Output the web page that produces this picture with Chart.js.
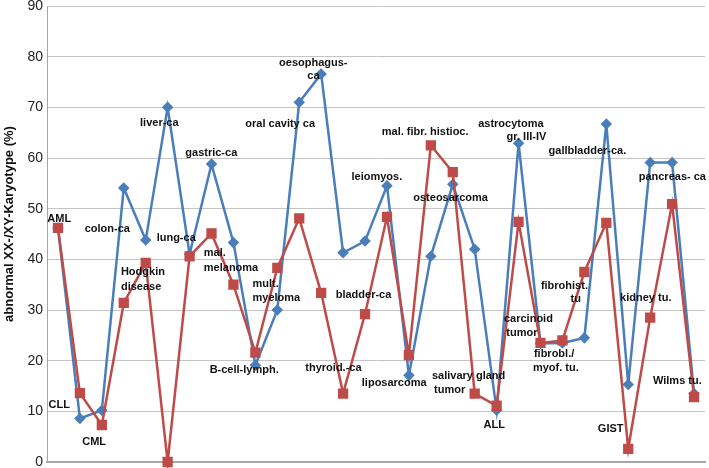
<!DOCTYPE html>
<html>
<head>
<meta charset="utf-8">
<script src="https://cdn.jsdelivr.net/npm/chart.js@4/dist/chart.umd.min.js"></script>
<style>
  html, body { margin: 0; padding: 0; background: #ffffff; }
  #wrap { width: 709px; height: 468px; }
</style>
</head>
<body>
<div id="wrap"><canvas id="c" width="709" height="468"></canvas></div>
<script>
const categories = ["AML","CLL","CML","colon-ca","Hodgkin disease","liver-ca","lung-ca","gastric-ca","mal. melanoma","B-cell-lymph.","mult. myeloma","oral cavity ca","oesophagus-ca","thyroid.-ca","bladder-ca","leiomyos.","liposarcoma","mal. fibr. histioc.","osteosarcoma","salivary gland tumor","ALL","astrocytoma gr. III-IV","carcinoid tumor","fibrobl./myof. tu.","fibrohist. tu","gallbladder-ca.","GIST","kidney tu.","pancreas- ca","Wilms tu."];
const blueValues = [46.2,8.6,10.2,54.1,43.8,70.0,41.0,58.8,43.3,19.1,30.0,71.0,76.6,41.3,43.6,54.5,17.1,40.6,54.8,42.0,10.2,62.9,23.4,23.5,24.5,66.7,15.3,59.1,59.1,13.5];
const redValues = [46.2,13.6,7.3,31.4,39.3,0.0,40.6,45.1,35.0,21.6,38.3,48.1,33.4,13.5,29.2,48.4,21.1,62.5,57.2,13.5,11.1,47.4,23.5,24.0,37.5,47.2,2.6,28.5,50.9,12.8];
const yTicks = [0,10,20,30,40,50,60,70,80,90];
const yTitle = 'abnormal XX-/XY-Karyotype (%)';
// text annotations: [text, category position, value position, alignment]
const annotations = [
  ["AML",0.06,48.0,"center"],["CLL",0.06,11.2,"center"],["CML",1.65,3.9,"center"],
  ["colon-ca",2.25,45.9,"center"],["Hodgkin",2.87,37.5,"left"],["disease",2.87,34.5,"left"],
  ["liver-ca",4.62,66.9,"center"],["lung-ca",5.39,44.2,"center"],["gastric-ca",6.99,60.9,"center"],
  ["mal.",6.65,41.2,"left"],["melanoma",6.65,38.2,"left"],["B-cell-lymph.",8.49,18.1,"center"],
  ["mult.",8.87,35.2,"left"],["myeloma",8.87,32.3,"left"],["oral cavity ca",10.13,66.8,"center"],
  ["oesophagus-",11.64,78.7,"center"],["ca",11.65,76.2,"center"],["thyroid.-ca",12.56,18.6,"center"],
  ["bladder-ca",13.93,32.9,"center"],["leiomyos.",14.54,56.2,"center"],["liposarcoma",15.33,15.6,"center"],
  ["mal. fibr. histioc.",16.74,65.1,"center"],["osteosarcoma",17.9,52.2,"center"],
  ["salivary gland",17.05,17.0,"left"],["tumor",17.15,14.2,"left"],["ALL",19.89,7.4,"center"],
  ["astrocytoma",20.65,66.7,"center"],["gr. III-IV",21.36,64.2,"center"],
  ["carcinoid",21.45,28.3,"center"],["tumor",21.15,25.4,"center"],
  ["gallbladder-ca.",24.14,61.4,"center"],["fibrohist.",23.09,34.7,"center"],["tu",23.61,32.1,"center"],
  ["fibrobl./",22.62,21.4,"center"],["myof. tu.",22.7,18.6,"center"],["kidney tu.",26.8,32.3,"center"],
  ["pancreas- ca",28.01,56.2,"center"],["GIST",25.2,6.6,"center"],["Wilms tu.",28.24,15.9,"center"]
];

const annotationPlugin = {
  id: 'textNotes',
  afterDatasetsDraw(chart) {
    const ctx = chart.ctx;
    const xs = chart.scales.x, ys = chart.scales.y;
    const step = xs.getPixelForValue(1) - xs.getPixelForValue(0);
    ctx.save();
    ctx.font = 'bold 11px "Liberation Sans", Arial, sans-serif';
    ctx.fillStyle = '#111111';
    ctx.textBaseline = 'middle';
    annotations.forEach(([t, xi, yv, al]) => {
      const px = xs.getPixelForValue(0) + xi * step;
      const py = ys.getPixelForValue(yv);
      ctx.textAlign = al;
      ctx.fillText(t, px, py);
    });
    // y-axis title
    const ca = chart.chartArea;
    ctx.translate(9, (ca.top + ca.bottom) / 2 - 10);
    ctx.rotate(-Math.PI / 2);
    ctx.textAlign = 'center';
    ctx.font = 'bold 13px "Liberation Sans", Arial, sans-serif';
    ctx.fillText(yTitle, 0, 0);
    ctx.restore();
  }
};

new Chart(document.getElementById('c'), {
  type: 'line',
  data: {
    labels: categories,
    datasets: [
      {
        data: redValues,
        borderColor: '#be4b48',
        backgroundColor: '#be4b48',
        borderWidth: 2.5,
        pointStyle: 'rect',
        pointRadius: 5.5,
        pointHoverRadius: 5.5,
        tension: 0,
        clip: false,
        order: 1
      },
      {
        data: blueValues,
        borderColor: '#4a7ebb',
        backgroundColor: '#4a7ebb',
        borderWidth: 2.5,
        pointStyle: 'rectRot',
        pointRadius: 4,
        pointHoverRadius: 4,
        tension: 0,
        clip: false,
        order: 2
      }
    ]
  },
  options: {
    responsive: false,
    animation: false,
    layout: { padding: 0, autoPadding: false },
    plugins: { legend: { display: false }, tooltip: { enabled: false } },
    scales: {
      x: {
        type: 'category',
        offset: true,
        grid: { display: false, drawTicks: false },
        ticks: { display: false },
        border: { display: true, color: '#a6a6a6', width: 2 },
        afterFit(s) { s.height = 0; s.paddingLeft = 0; s.paddingRight = 4; }
      },
      y: {
        min: 0, max: 90,
        afterBuildTicks(s) { s.ticks = yTicks.map(v => ({ value: v })); },
        grid: { color: '#c4c4c4', lineWidth: 1, drawTicks: false },
        border: { display: true, color: '#a6a6a6', width: 1 },
        ticks: {
          padding: 4,
          color: '#222222',
          font: { family: '"Liberation Sans", Arial, sans-serif', size: 14 }
        },
        title: { display: false },
        afterFit(s) { s.width = 47; s.paddingTop = 6; s.paddingBottom = 6; }
      }
    }
  },
  plugins: [annotationPlugin]
});
</script>
</body>
</html>
